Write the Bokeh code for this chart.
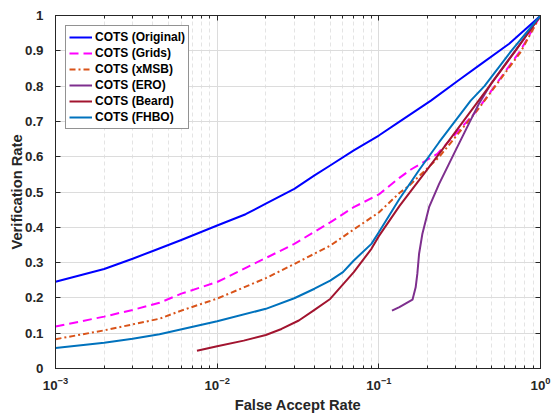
from bokeh.plotting import figure
from bokeh.models import Range1d, LogAxis, LinearAxis, FixedTicker, NumeralTickFormatter, Legend, LegendItem, LogTicker
from bokeh.embed import file_html
from bokeh.resources import INLINE

# ---- data ----
far_original = [0.001, 0.002, 0.003, 0.004, 0.006, 0.01, 0.015, 0.02, 0.03, 0.04, 0.05, 0.07, 0.1, 0.135, 0.21, 0.31, 0.43, 0.64, 0.95, 1.0]
vr_original = [0.246, 0.282, 0.311, 0.333, 0.364, 0.405, 0.437, 0.467, 0.509, 0.547, 0.575, 0.618, 0.660, 0.700, 0.759, 0.816, 0.863, 0.920, 0.990, 1.0]

far_grids = [0.001, 0.002, 0.003, 0.0044, 0.006, 0.01, 0.02, 0.03, 0.05, 0.07, 0.1, 0.134, 0.157, 0.23, 0.405, 0.75, 1.0]
vr_grids = [0.119, 0.147, 0.166, 0.186, 0.212, 0.245, 0.313, 0.353, 0.414, 0.457, 0.493, 0.540, 0.563, 0.608, 0.731, 0.900, 1.0]

far_xmsb = [0.001, 0.002, 0.003, 0.0044, 0.006, 0.01, 0.02, 0.03, 0.05, 0.07, 0.1, 0.134, 0.154, 0.236, 0.42, 0.75, 1.0]
vr_xmsb = [0.083, 0.108, 0.125, 0.141, 0.164, 0.198, 0.256, 0.296, 0.348, 0.394, 0.442, 0.497, 0.518, 0.599, 0.740, 0.895, 1.0]

far_ero = [0.1206, 0.134, 0.1615, 0.169, 0.173, 0.1774, 0.186, 0.2045, 0.236, 0.2985, 0.369, 0.416, 0.5, 0.75, 1.0]
vr_ero = [0.164, 0.174, 0.195, 0.230, 0.268, 0.325, 0.382, 0.457, 0.523, 0.618, 0.703, 0.750, 0.810, 0.920, 1.0]

far_beard = [0.0075, 0.01, 0.0146, 0.02, 0.025, 0.032, 0.04, 0.05, 0.07, 0.09, 0.1, 0.134, 0.236, 0.483, 0.70, 1.0]
vr_beard = [0.050, 0.063, 0.079, 0.095, 0.112, 0.136, 0.166, 0.197, 0.273, 0.339, 0.375, 0.460, 0.608, 0.800, 0.900, 1.0]

far_fhbo = [0.001, 0.002, 0.003, 0.0044, 0.01, 0.02, 0.03, 0.04, 0.05, 0.06, 0.07, 0.09, 0.1, 0.134, 0.178, 0.236, 0.37, 0.45, 0.66, 1.0]
vr_fhbo = [0.058, 0.073, 0.084, 0.097, 0.134, 0.169, 0.199, 0.226, 0.249, 0.273, 0.306, 0.353, 0.386, 0.480, 0.563, 0.641, 0.759, 0.800, 0.900, 1.0]

labels = ["COTS (Original)", "COTS (Grids)", "COTS (xMSB)", "COTS (ERO)", "COTS (Beard)", "COTS (FHBO)"]
y_ticks = [0, 0.1, 0.2, 0.3, 0.4, 0.5, 0.6, 0.7, 0.8, 0.9, 1.0]

FONT = "Liberation Sans"
AX = "#262626"

p = figure(width=553, height=416, x_axis_type="log",
           x_range=Range1d(0.001, 1.0), y_range=Range1d(0, 1),
           output_backend="svg", toolbar_location=None,
           min_border_left=55, min_border_right=13, min_border_top=15, min_border_bottom=48)
p.outline_line_color = AX
p.background_fill_color = "white"
p.border_fill_color = "white"

series = [
    (far_original, vr_original, "#0000FF", "solid"),
    (far_grids, vr_grids, "#FF00FF", "9 5"),
    (far_xmsb, vr_xmsb, "#D95319", "6 3 2 3"),
    (far_ero, vr_ero, "#7E2F8E", "solid"),
    (far_beard, vr_beard, "#A2142F", "solid"),
    (far_fhbo, vr_fhbo, "#0072BD", "solid"),
]
items = []
for (xs, ys, col, dash), lab in zip(series, labels):
    r = p.line(xs, ys, line_color=col, line_width=2, line_dash=dash, line_join="round")
    items.append(LegendItem(label=lab, renderers=[r]))

# axes styling
xax = p.xaxis[0]
yax = p.yaxis[0]
xax.ticker = LogTicker(desired_num_ticks=4, num_minor_ticks=10)
yax.ticker = FixedTicker(ticks=y_ticks)
yax.formatter = NumeralTickFormatter(format="0.[0]")
for ax in (xax, yax):
    ax.axis_line_color = AX
    ax.major_tick_line_color = AX
    ax.minor_tick_line_color = AX
    ax.major_tick_in = 5
    ax.major_tick_out = 0
    ax.minor_tick_in = 3
    ax.minor_tick_out = 0
    ax.major_label_text_font = FONT
    ax.major_label_text_font_style = "bold"
    ax.major_label_text_font_size = "13.3px"
    ax.major_label_text_color = AX
    ax.axis_label_text_font = FONT
    ax.axis_label_text_font_style = "bold"
    ax.axis_label_text_font_size = "14.7px"
    ax.axis_label_text_color = AX
yax.minor_tick_line_color = None
xax.axis_label = "False Accept Rate"
yax.axis_label = "Verification Rate"
xax.major_label_standoff = 8
yax.major_label_standoff = 12
xax.axis_label_standoff = 4
yax.axis_label_standoff = -3

top = LogAxis(ticker=LogTicker(desired_num_ticks=4, num_minor_ticks=10))
right = LinearAxis(ticker=FixedTicker(ticks=y_ticks))
for ax in (top, right):
    ax.axis_line_color = AX
    ax.major_tick_line_color = AX
    ax.minor_tick_line_color = AX
    ax.major_tick_in = 5
    ax.major_tick_out = 0
    ax.minor_tick_in = 3
    ax.minor_tick_out = 0
    ax.major_label_text_font_size = "0px"
    ax.major_label_text_color = None
    ax.major_label_standoff = 0
right.minor_tick_line_color = None
p.add_layout(top, "above")
p.add_layout(right, "right")

# grids
p.xgrid.grid_line_color = "#dcdcdc"
p.xgrid.minor_grid_line_color = "#e4e4e4"
p.xgrid.minor_grid_line_dash = "4 3"
p.ygrid.grid_line_color = "#dcdcdc"

legend = Legend(items=items, location="top_left")
legend.margin = 10
legend.padding = 3
legend.spacing = 0
legend.label_height = 16
legend.glyph_height = 16
legend.glyph_width = 23
legend.label_standoff = 3
legend.label_text_font = FONT
legend.label_text_font_style = "bold"
legend.label_text_font_size = "12px"
legend.label_text_color = "black"
legend.border_line_color = AX
legend.border_line_width = 1
legend.background_fill_color = "white"
legend.background_fill_alpha = 1
p.add_layout(legend)

open("out.html", "w").write(file_html(p, INLINE))
